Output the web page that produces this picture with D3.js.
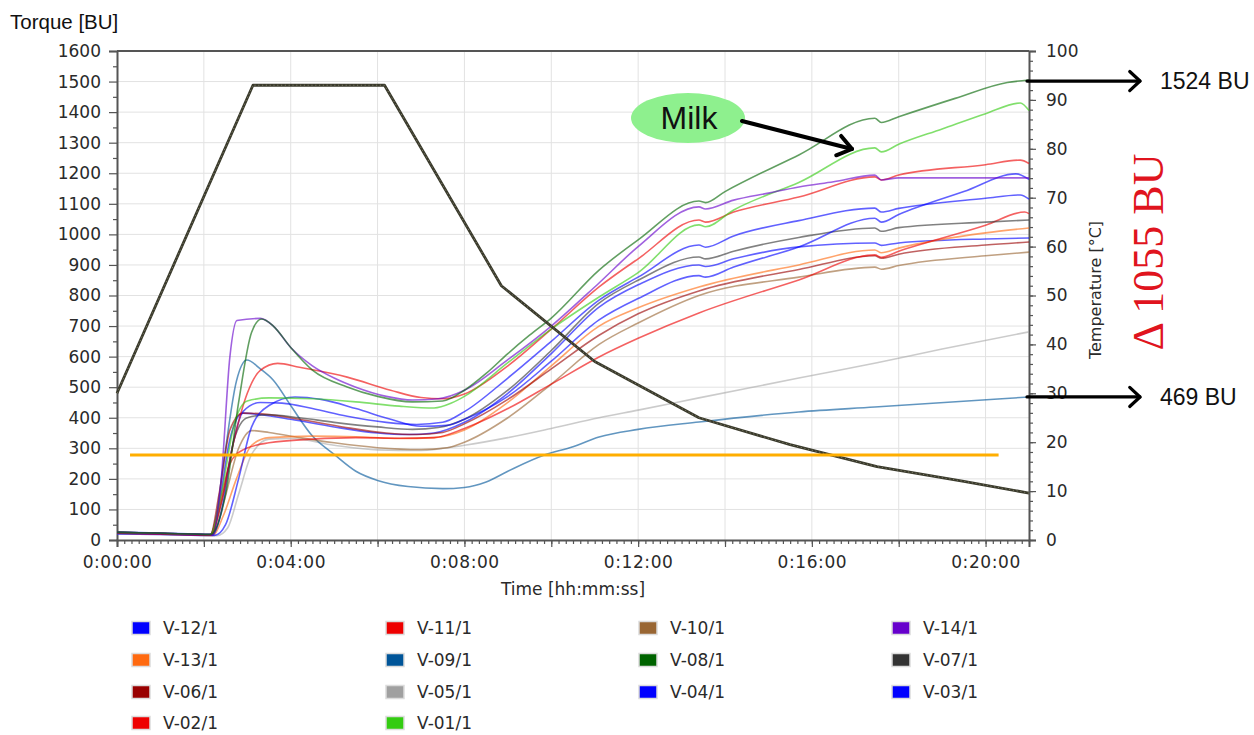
<!DOCTYPE html>
<html>
<head>
<meta charset="utf-8">
<script src="https://cdn.jsdelivr.net/npm/d3@7/dist/d3.min.js"></script>
<style>
  html, body { margin: 0; padding: 0; background: #fff; }
  svg { display: block; }
</style>
</head>
<body>
<script>
// ---------------- DATA ----------------
const timeTicks = [0, 4, 8, 12, 16, 20];          // minutes
const torqueTicks = [0,100,200,300,400,500,600,700,800,900,1000,1100,1200,1300,1400,1500,1600];
const tempTicks = [0,10,20,30,40,50,60,70,80,90,100];

const seriesNames = ["V-12/1","V-11/1","V-10/1","V-14/1","V-13/1","V-09/1","V-08/1","V-07/1","V-06/1","V-05/1","V-04/1","V-03/1","V-02/1","V-01/1"];
const seriesColors = ["#0000ff","#ee0000","#996633","#6600cc","#ff6a10","#005599","#006400","#333333","#990000","#a0a0a0","#0000ff","#0000ff","#ee0000","#33cc11"];

// [minute, torque BU]
const v12 = [[0,24],[1,21],[2.2,17],[2.4,90],[2.65,300],[2.9,420],[3.3,450],[3.8,448],[4.5,430],[5.3,405],[6.2,385],[6.9,378],[7.5,385],[8,420],[9,530],[10,650],[11.1,785],[12,860],[13.4,965],[13.55,958],[14.2,995],[15.7,1045],[17.45,1086],[17.6,1073],[18,1085],[20,1118],[20.8,1129],[21,1115]];
const v11 = [[0,22],[1,20],[2.15,16],[2.4,120],[2.7,330],[3,480],[3.3,555],[3.7,578],[4.2,565],[5.3,533],[6.3,490],[7,466],[7.5,462],[8,478],[9,570],[10,690],[11.1,828],[12,920],[13.4,1047],[13.55,1040],[14.2,1073],[15.7,1122],[17.45,1188],[17.6,1178],[18,1194],[20,1228],[20.8,1243],[21,1232]];
const v10 = [[0,24],[1,21],[2.2,17],[2.45,120],[2.8,300],[3.1,358],[3.5,352],[4.2,335],[5,318],[6,302],[7,296],[7.6,302],[8,320],[9,400],[10,510],[11.1,640],[12,710],[13.4,800],[15.7,860],[17.45,893],[17.6,886],[18,898],[20,930],[21,942]];
const v14 = [[0,25],[1,22],[2.2,18],[2.4,200],[2.6,600],[2.76,718],[3.3,725],[3.6,700],[4,630],[4.5,570],[5,530],[5.5,500],[6.2,470],[6.8,458],[7.4,462],[8,490],[9,590],[10,700],[11.1,841],[12,960],[13.4,1090],[13.55,1083],[14.2,1112],[15,1135],[15.7,1155],[16.5,1172],[17.45,1194],[17.6,1178],[18,1185],[21,1185]];
const v13 = [[0,22],[1,19],[2.2,15],[2.45,80],[2.75,200],[3.1,310],[3.5,335],[4.5,340],[5.5,338],[6.5,332],[7.3,335],[8,360],[9,450],[10,570],[11.1,700],[12,760],[13.4,828],[15.7,900],[17.45,949],[17.6,940],[18,955],[20,1005],[21,1021]];
const v09 = [[0,25],[1,22],[2.2,18],[2.45,250],[2.75,520],[2.99,589],[3.3,560],[3.6,523],[4,440],[4.5,340],[5,280],[5.5,225],[6,195],[6.7,175],[7.5,168],[8,172],[8.5,190],[9,225],[9.84,278],[10.5,305],[11.1,337],[12,362],[13.4,386],[15.7,419],[17.45,435],[21,468]];
const v08 = [[0,25],[1,22],[2.15,18],[2.5,150],[2.8,450],[3.1,680],[3.33,723],[3.6,700],[4,630],[4.5,556],[5.3,501],[6,470],[6.8,452],[7.5,455],[8,490],[8.5,545],[9,610],[9.5,670],[10,726],[11.1,883],[12,982],[13.4,1109],[13.55,1104],[14,1140],[15.7,1260],[17.45,1380],[17.6,1366],[18,1385],[19.3,1445],[20.5,1497],[21,1505]];
const v07 = [[0,25],[1,22],[2.15,18],[2.4,120],[2.7,330],[3,400],[3.5,410],[4.2,400],[5,385],[6,370],[6.8,362],[7.4,368],[8,395],[9,490],[10,620],[11.1,775],[12,850],[13.4,926],[13.55,920],[14.2,945],[15.7,990],[17.45,1021],[17.6,1010],[18,1022],[20,1040],[21,1047]];
const v06 = [[0,25],[1,22],[2.15,18],[2.35,150],[2.6,360],[2.9,415],[3.4,412],[4.2,395],[5.2,370],[6.2,350],[6.9,345],[7.5,352],[8,380],[9,460],[10,560],[11.1,670],[12,740],[13.4,815],[15.7,885],[17.45,930],[17.6,922],[18,935],[20,965],[21,975]];
const v05 = [[0,20],[1,18],[2.3,14],[2.55,40],[2.8,150],[3.1,280],[3.5,330],[4,332],[5,310],[6,295],[7,293],[8,310],[9,335],[10,365],[11.1,400],[12,425],[13.4,465],[15.7,530],[17.5,580],[19,625],[21,681]];
const v04 = [[0,26],[1,23],[2.15,19],[2.35,120],[2.6,330],[2.9,415],[3.3,410],[4,395],[5,370],[6,350],[6.7,345],[7.3,350],[8,385],[9,480],[10,610],[11.1,762],[12,835],[13.4,900],[13.55,895],[14.2,920],[15.7,959],[17.45,972],[17.6,964],[18,972],[20,985],[21,988]];
const v03 = [[0,20],[1,18],[2.25,15],[2.5,50],[2.8,200],[3.1,370],[3.5,440],[4.1,468],[4.7,460],[5.5,430],[6.3,395],[7,372],[7.6,375],[8,395],[9,470],[10,585],[11.1,720],[12,790],[13.4,865],[13.55,860],[14.2,893],[15.7,959],[17.45,1053],[17.6,1040],[18,1065],[19.5,1140],[20.7,1198],[21,1180]];
const v02 = [[0,23],[1,20],[2.15,16],[2.35,110],[2.6,250],[2.9,295],[3.5,318],[4.5,330],[5.5,335],[6.5,333],[7.3,335],[8,365],[9,430],[10,510],[11.1,599],[12,660],[13.4,743],[15.7,851],[17.45,933],[17.6,925],[18,945],[20,1030],[20.9,1073],[21,1068]];
const v01 = [[0,25],[1,22],[2.15,18],[2.4,150],[2.7,380],[3,455],[3.5,465],[4.5,462],[5.5,452],[6.5,438],[7.3,432],[7.7,448],[8,470],[9,580],[10,690],[11.1,795],[12,875],[13.4,1031],[13.55,1025],[14.2,1080],[15.7,1170],[17.45,1283],[17.6,1270],[18,1295],[19,1345],[20,1395],[20.8,1430],[21,1405]];

const seriesData = [v12, v11, v10, v14, v13, v09, v08, v07, v06, v05, v04, v03, v02, v01];

// temperature profile [minute, °C]
const tempProfile = [[0,30],[3.13,93],[6.16,93],[8.85,52],[11.0,36.5],[13.4,25],[15.5,19.5],[17.5,15],[19.5,12],[21,9.6]];

// reference line (BU)
const refLine = [[0.3,278],[20.3,278]];

// annotations
const endLabels = [{text:"1524 BU", value:1505}, {text:"469 BU", value:468}];
const deltaLabel = "\u0394 1055 BU";

// ---------------- CHART ----------------
const W = 1254, H = 735;
const svg = d3.select("body").append("svg").attr("width", W).attr("height", H)
  .style("font-family", "'DejaVu Sans', Verdana, sans-serif");

const x = d3.scaleLinear().domain([0, 21]).range([117, 1029]);
const y = d3.scaleLinear().domain([0, 1600]).range([540, 51]);
const yT = d3.scaleLinear().domain([0, 100]).range([540, 51]);

// grid
const grid = svg.append("g");
grid.selectAll("line.v").data(d3.range(2, 21, 2)).join("line")
  .attr("x1", d => x(d)).attr("x2", d => x(d)).attr("y1", y(1600)).attr("y2", y(0))
  .attr("stroke", "#e2e2e2").attr("stroke-width", 1);
grid.selectAll("line.h").data(torqueTicks.slice(1, -1)).join("line")
  .attr("x1", x(0)).attr("x2", x(21)).attr("y1", d => y(d)).attr("y2", d => y(d))
  .attr("stroke", "#e2e2e2").attr("stroke-width", 1);

// axes
const fmtTime = m => "0:" + String(m).padStart(2, "0") + ":00";
const xAxis = d3.axisBottom(x).tickValues(timeTicks).tickFormat(fmtTime).tickSize(7).tickPadding(9);
const gx = svg.append("g").attr("transform", `translate(0,${y(0)})`).call(xAxis);
const xMinor = d3.axisBottom(x).tickValues(d3.range(0, 21.001, 1/6)).tickFormat("").tickSize(4);
svg.append("g").attr("transform", `translate(0,${y(0)})`).call(xMinor).select(".domain").remove();
const x2 = d3.axisBottom(x).tickValues(d3.range(2, 21, 4)).tickFormat("").tickSize(7);
svg.append("g").attr("transform", `translate(0,${y(0)})`).call(x2).select(".domain").remove();

const yAxis = d3.axisLeft(y).tickValues(torqueTicks).tickFormat(d3.format("d")).tickSize(8).tickPadding(8);
const gy = svg.append("g").attr("transform", `translate(${x(0)},0)`).call(yAxis);
const yMinor = d3.axisLeft(y).tickValues(d3.range(50, 1600, 100)).tickFormat("").tickSize(4);
svg.append("g").attr("transform", `translate(${x(0)},0)`).call(yMinor).select(".domain").remove();

const tAxis = d3.axisRight(yT).tickValues(tempTicks).tickFormat(d3.format("d")).tickSize(7).tickPadding(10);
const gt = svg.append("g").attr("transform", `translate(${x(21)},0)`).call(tAxis);
const tMinor = d3.axisRight(yT).tickValues(d3.range(0, 100.1, 2)).tickFormat("").tickSize(4);
svg.append("g").attr("transform", `translate(${x(21)},0)`).call(tMinor).select(".domain").remove();

svg.selectAll(".domain").attr("stroke", "#555").attr("stroke-width", 2);
svg.selectAll(".tick line").attr("stroke", "#555").attr("stroke-width", 1.2);
svg.selectAll(".tick text").attr("fill", "#2a2a2a").style("font-size", "17px")
  .style("font-family", "'DejaVu Sans', Verdana, sans-serif");
gx.selectAll(".tick text").style("letter-spacing", "0.6px");

// top border
svg.append("line").attr("x1", x(0)).attr("x2", x(21)).attr("y1", y(1600)).attr("y2", y(1600))
  .attr("stroke", "#555").attr("stroke-width", 2);

// axis titles
svg.append("text").attr("x", 573).attr("y", 595).attr("text-anchor", "middle")
  .style("font-size", "17px").attr("fill", "#2a2a2a").text("Time [hh:mm:ss]");
svg.append("text").attr("transform", "translate(1095,290) rotate(-90)").attr("text-anchor", "middle")
  .attr("dominant-baseline", "central").style("font-size", "16px").attr("fill", "#2a2a2a")
  .text("Temperature [\u00B0C]");
svg.append("text").attr("x", 10).attr("y", 29)
  .style("font-family", "'Liberation Sans', Arial, sans-serif").style("font-size", "20.5px")
  .attr("fill", "#111").text("Torque [BU]");

// torque curves
const line = d3.line().x(d => x(d[0])).y(d => y(d[1])).curve(d3.curveMonotoneX);
const drawOrder = [9, 5, 10, 2, 4, 8, 12, 7, 11, 0, 1, 13, 3, 6];
svg.append("g").selectAll("path").data(drawOrder).join("path")
  .attr("d", i => line(seriesData[i]))
  .attr("fill", "none")
  .attr("stroke", i => seriesColors[i])
  .attr("stroke-width", 1.6)
  .attr("stroke-opacity", i => i === 9 ? 0.55 : 0.62)
  .attr("stroke-linejoin", "round");

// temperature line
const tline = d3.line().x(d => x(d[0])).y(d => yT(d[1]));
svg.append("path").attr("d", tline(tempProfile)).attr("fill", "none")
  .attr("stroke", "#3a3a2c").attr("stroke-width", 2.8).attr("stroke-linejoin", "round");
svg.append("path").attr("d", tline(tempProfile)).attr("fill", "none")
  .attr("stroke", "#8c8c72").attr("stroke-width", 0.8).attr("stroke-dasharray", "1.2,2.6");

// reference line
const rline = d3.line().x(d => x(d[0])).y(d => y(d[1]));
svg.append("path").attr("d", rline(refLine)).attr("stroke", "#ffae00")
  .attr("stroke-width", 3).attr("fill", "none");

// arrows
function arrow(x1, y1, x2, y2, w, len, ang) {
  const a = Math.atan2(y2 - y1, x2 - x1);
  const p1 = [x2 - len * Math.cos(a - ang), y2 - len * Math.sin(a - ang)];
  const p2 = [x2 - len * Math.cos(a + ang), y2 - len * Math.sin(a + ang)];
  const g = svg.append("g").attr("stroke", "#000").attr("fill", "none")
    .attr("stroke-width", w).attr("stroke-linecap", "round").attr("stroke-linejoin", "round");
  g.append("line").attr("x1", x1).attr("y1", y1).attr("x2", x2).attr("y2", y2);
  g.append("path").attr("d", `M${p1[0]},${p1[1]}L${x2},${y2}L${p2[0]},${p2[1]}`);
}
endLabels.forEach(d => {
  const yy = y(d.value) + (d.value > 1000 ? 1 : 0);
  arrow(x(21) - 2, yy, 1140, yy, 3.2, 14, Math.PI / 4.2);
  svg.append("text").attr("x", 1160).attr("y", yy).attr("dominant-baseline", "central")
    .style("font-family", "'Liberation Sans', Arial, sans-serif").style("font-size", "23px")
    .attr("fill", "#111").text(d.text);
});

// delta label
svg.append("text").attr("transform", "translate(1148,252) rotate(-90)")
  .attr("text-anchor", "middle").attr("dominant-baseline", "central")
  .style("font-family", "'Liberation Serif', 'Times New Roman', serif").style("font-size", "44px")
  .attr("fill", "#e0141e").text(deltaLabel);

// Milk bubble
svg.append("ellipse").attr("cx", 688).attr("cy", 118).attr("rx", 57).attr("ry", 25)
  .attr("fill", "#8ef08e");
svg.append("text").attr("x", 689).attr("y", 118).attr("text-anchor", "middle")
  .attr("dominant-baseline", "central")
  .style("font-family", "'Liberation Sans', Arial, sans-serif").style("font-size", "32px")
  .attr("fill", "#111").text("Milk");
arrow(742, 121, 852, 149, 4, 17, Math.PI / 5);

// legend
const legend = svg.append("g");
const colX = [132, 386, 639, 892], rowY = [628, 660, 692, 723];
seriesNames.forEach((name, i) => {
  const cx = colX[i % 4], cy = rowY[Math.floor(i / 4)];
  legend.append("rect").attr("x", cx).attr("y", cy - 6.5).attr("width", 18).attr("height", 13)
    .attr("fill", seriesColors[i]).attr("stroke", "#dcdcdc").attr("stroke-width", 1.5);
  legend.append("text").attr("x", cx + 31).attr("y", cy).attr("dominant-baseline", "central")
    .style("font-size", "17px").attr("fill", "#2a2a2a").text(name);
});
</script>
</body>
</html>
